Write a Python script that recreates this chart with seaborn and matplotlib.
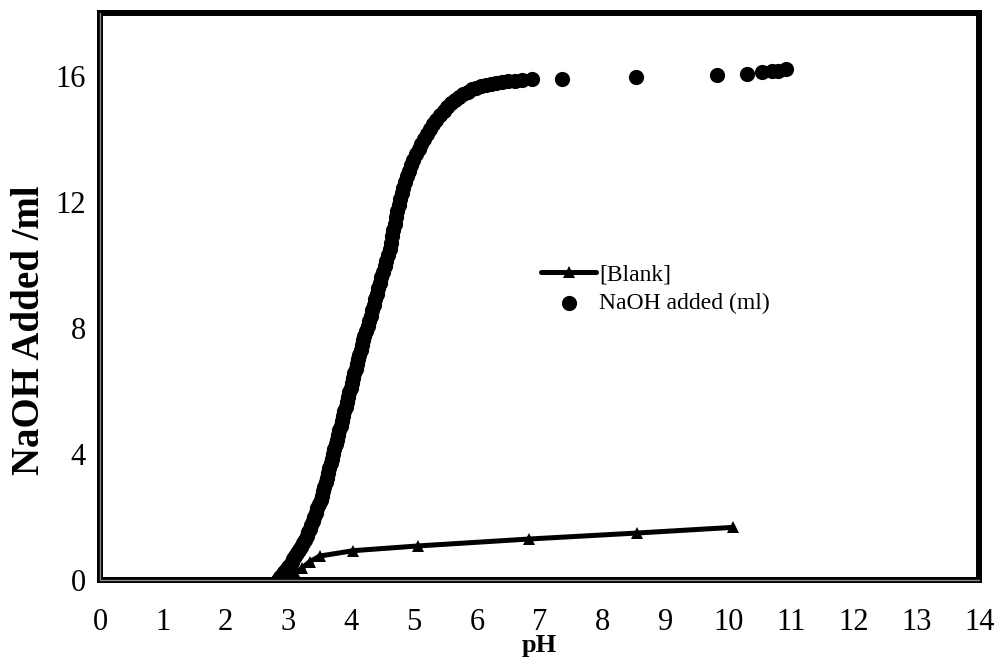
import matplotlib
matplotlib.use("Agg")
import matplotlib.pyplot as plt
import seaborn as sns
import pandas as pd

# ---- data ----
naoh_ph = [2.84, 2.87, 2.90, 2.93, 2.96, 2.99, 3.02, 3.05, 3.08, 3.11, 3.14, 3.17,
           3.20, 3.23, 3.26, 3.29, 3.31, 3.34, 3.36, 3.39, 3.41, 3.44, 3.46, 3.48,
           3.51, 3.53, 3.55, 3.57, 3.59, 3.61, 3.63, 3.65, 3.67, 3.69, 3.71, 3.73,
           3.75, 3.77, 3.79, 3.81, 3.83, 3.85, 3.87, 3.89, 3.91, 3.93, 3.95, 3.97,
           3.99, 4.01, 4.03, 4.05, 4.07, 4.09, 4.11, 4.13, 4.15, 4.17, 4.19, 4.21,
           4.24, 4.26, 4.28, 4.31, 4.33, 4.36, 4.38, 4.41, 4.43, 4.46, 4.48, 4.51,
           4.53, 4.56, 4.58, 4.61, 4.63, 4.65, 4.67, 4.69, 4.71, 4.73, 4.76, 4.78,
           4.81, 4.83, 4.86, 4.89, 4.92, 4.95, 4.99, 5.03, 5.07, 5.11, 5.15, 5.20,
           5.25, 5.30, 5.35, 5.41, 5.47, 5.53, 5.59, 5.65, 5.71, 5.78, 5.85, 5.92,
           5.99, 6.07, 6.15, 6.23, 6.31, 6.40, 6.50, 6.60, 6.72, 6.88, 7.36, 8.54,
           9.82, 10.30, 10.54, 10.70, 10.80, 10.92]
naoh_ml = [0.00, 0.08, 0.16, 0.24, 0.32, 0.40, 0.48, 0.57, 0.66, 0.75, 0.85, 0.95,
           1.05, 1.16, 1.27, 1.39, 1.51, 1.63, 1.75, 1.88, 2.01, 2.14, 2.27, 2.40,
           2.54, 2.68, 2.82, 2.96, 3.10, 3.25, 3.40, 3.55, 3.70, 3.85, 4.00, 4.15,
           4.30, 4.45, 4.60, 4.75, 4.90, 5.05, 5.20, 5.35, 5.50, 5.65, 5.80, 5.95,
           6.10, 6.25, 6.40, 6.55, 6.70, 6.85, 7.00, 7.15, 7.30, 7.45, 7.60, 7.75,
           7.90, 8.05, 8.20, 8.38, 8.55, 8.72, 8.90, 9.08, 9.25, 9.43, 9.60, 9.78,
           9.95, 10.13, 10.30, 10.50, 10.70, 10.90, 11.10, 11.30, 11.50, 11.70, 11.90, 12.08,
           12.26, 12.44, 12.62, 12.80, 12.98, 13.15, 13.32, 13.50, 13.66, 13.82, 13.98, 14.14,
           14.30, 14.45, 14.60, 14.74, 14.88, 15.00, 15.12, 15.22, 15.32, 15.41, 15.49, 15.56,
           15.62, 15.67, 15.71, 15.74, 15.77, 15.80, 15.82, 15.84, 15.86, 15.88, 15.90, 15.96,
           16.01, 16.06, 16.10, 16.13, 16.16, 16.22]

blank_ph = [2.84, 2.97, 3.10, 3.21, 3.34, 3.50, 4.03, 5.06, 6.83, 8.55, 10.08]
blank_ml = [0.00, 0.10, 0.22, 0.37, 0.58, 0.76, 0.93, 1.08, 1.30, 1.49, 1.67]

x_ticks = list(range(0, 15))
y_ticks = [0, 4, 8, 12, 16]
x_label = "pH"
y_label = "NaOH Added /ml"
blank_name = "[Blank]"
naoh_name = "NaOH added (ml)"

df_naoh = pd.DataFrame({"pH": naoh_ph, "ml": naoh_ml})
df_blank = pd.DataFrame({"pH": blank_ph, "ml": blank_ml})

sns.set_style("white")
plt.rcParams["font.family"] = ["Liberation Serif", "DejaVu Serif"]
plt.rcParams["text.color"] = "black"
plt.rcParams["axes.labelcolor"] = "black"
plt.rcParams["xtick.color"] = "black"
plt.rcParams["ytick.color"] = "black"

fig = plt.figure(figsize=(10, 6.66), dpi=100)
ax = fig.add_axes([0.100, 1 - 580 / 666, 0.8795, (580 - 12.5) / 666])

sns.lineplot(data=df_blank, x="pH", y="ml", ax=ax, color="black", lw=3.6,
             marker="^", markersize=8, markeredgewidth=0, label=blank_name,
             zorder=3, sort=False)
sns.scatterplot(data=df_naoh, x="pH", y="ml", ax=ax, color="black", s=120,
                linewidth=0, label=naoh_name, zorder=4)

ax.set_xlim(0, 14)
ax.set_ylim(0, 18)
ax.set_xticks(x_ticks)
ax.set_yticks(y_ticks)
ax.tick_params(axis="both", length=0, labelsize=22, labelcolor="black")
ax.tick_params(axis="x", pad=20)
ax.tick_params(axis="y", pad=10)

ax.set_xlabel(x_label, fontsize=19, fontweight="bold", labelpad=-2, color="black")
ax.set_ylabel(y_label, fontsize=28, fontweight="bold", color="black")
ax.yaxis.set_label_coords(-0.0595, 0.44)

for sp in ax.spines.values():
    sp.set_visible(True)
    sp.set_color("black")
    sp.set_linewidth(4.3)
    sp.set_zorder(5)
# inner gray stripe for the double-line look on left and bottom
ax.plot([0, 0], [0, 1], transform=ax.transAxes, color="#8a8a8a", lw=1.0,
        clip_on=False, zorder=6)
ax.plot([0, 1], [0, 0], transform=ax.transAxes, color="#8a8a8a", lw=1.0,
        clip_on=False, zorder=6)

leg = ax.legend(loc="upper left", bbox_to_anchor=(0.4885, 0.578), frameon=False,
                fontsize=17, handlelength=2.3, handletextpad=0.15,
                labelspacing=0.3, borderpad=0)
for t in leg.get_texts():
    t.set_color("black")

fig.savefig("out.png", dpi=100)
